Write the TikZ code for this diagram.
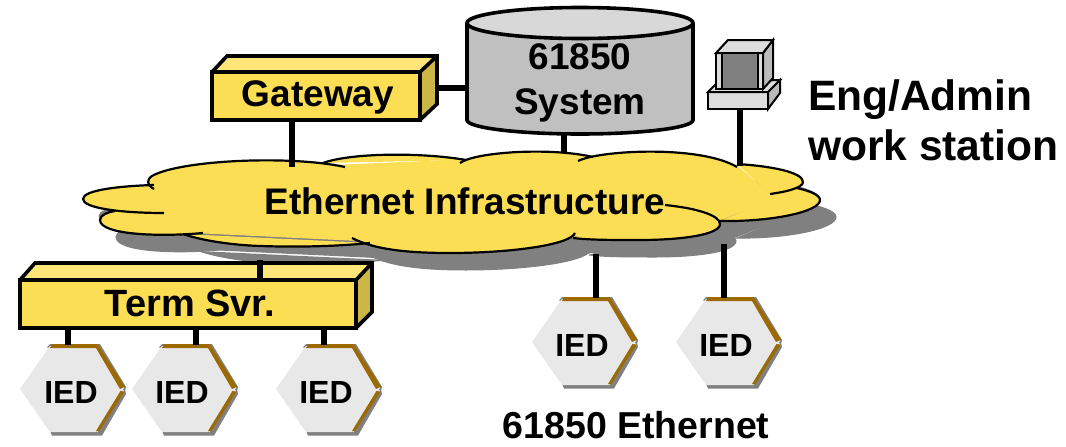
\documentclass[tikz,border=0pt]{standalone}
\usepackage{fontspec}
\setmainfont{Liberation Sans}
\definecolor{boxfront}{RGB}{252,222,85}
\definecolor{boxtop}{RGB}{253,229,120}
\definecolor{boxside}{RGB}{204,183,70}
\definecolor{shadowgray}{RGB}{128,128,128}
\definecolor{iedfill}{RGB}{232,232,232}
\definecolor{iedbrown}{RGB}{156,106,0}
\definecolor{cylbody}{RGB}{192,192,192}
\definecolor{cyltop}{RGB}{216,216,216}
\definecolor{lightgray2}{RGB}{221,221,221}
\definecolor{midgray2}{RGB}{187,187,187}
\tikzset{
 x=1pt,y=-1pt,
 lab/.style={font=\fontsize{37}{45}\selectfont\bfseries,align=left,inner sep=0pt},
 iedlab/.style={font=\fontsize{32}{36}\selectfont\bfseries,inner sep=0pt},
 boxline/.style={draw=black,line width=3.6pt,line join=miter},
 link/.style={draw=black,line width=5.5pt},
 cloudline/.style={draw=black,line width=2.2pt},
 wsline/.style={draw=black,line width=2pt},
 cloudfill/.style={fill=#1,draw=#1,line width=1pt},
}
\newcommand{\cloudlobes}[1]{%
 \path[#1] (154,189) .. controls (147,185) and (146,180) .. (152,176) .. controls (180,160) and (290,155) .. (345,167);
 \path[#1] (323,163) .. controls (350,153) and (420,152) .. (466,160);
 \path[#1] (460,163) .. controls (475,152) and (550,147) .. (593,157);
 \path[#1] (578,161) .. controls (600,150) and (700,145) .. (737,167);
 \path[#1] (737,164) .. controls (770,166) and (803,172) .. (803,182) .. controls (803,188) and (785,192) .. (770,194);
 \path[#1] (797,188) .. controls (810,191) and (820,195) .. (820,200) .. controls (820,212) and (770,222) .. (720,221);
 \path[#1] (665,205) .. controls (695,208) and (720,215) .. (720,224) .. controls (720,235) and (680,240) .. (640,240) .. controls (610,240) and (590,240) .. (573,238);
 \path[#1] (575,233) .. controls (570,245) and (510,253) .. (450,253) .. controls (410,253) and (375,250) .. (352,238);
 \path[#1] (370,243) .. controls (330,247) and (290,247) .. (260,246) .. controls (230,245) and (200,240) .. (183,234);
 \path[#1] (203,233) .. controls (160,237) and (100,235) .. (100,220) .. controls (100,215) and (108,212) .. (115,211);
 \path[#1] (164,213) .. controls (120,213) and (83,208) .. (83,199) .. controls (83,190) and (120,186) .. (154,185);
}
\newcommand{\cloudcore}[1]{%
 \path[#1] (154,187) -- (200,165) -- (345,165) -- (460,160) -- (590,158) -- (737,166) -- (770,194) -- (797,189) -- (720,220) -- (573,236) -- (450,249) -- (370,241) -- (183,232) -- (117,212) -- (164,212) -- cycle;
}
\newcommand{\ied}[2]{%
 \begin{scope}[shift={(#1,#2)}]
  \fill[shadowgray] (50,431) -- (98,431) -- (125,390) -- (126,394) -- (102,435.5) -- (52,435.5) -- cycle;
  \fill[shadowgray] (47,347.5) -- (50,344) -- (100,344) -- (126,387) -- (125,391) -- (120,389) -- (96,347.5) -- cycle;
  \fill[iedfill] (20,389) -- (50,346) -- (98,346) -- (124,388) -- (98,432) -- (50,432) -- cycle;
  \fill[iedbrown] (52,344) -- (97.5,344) -- (125,386.5) -- (120,389) -- (96,348) -- (50,348) -- cycle;
  \fill[iedbrown] (120.5,391) -- (124.5,391.5) -- (99,431.5) -- (96,431) -- cycle;
 \end{scope}}
\newcommand{\iedtext}[3]{\node[iedlab] (#1) at (#2,#3) {IED};}
\begin{document}
\begin{tikzpicture}
\useasboundingbox (0,0) rectangle (1066,447);
% cloud shadow
\begin{scope}[shift={(16,17)}]
 \cloudcore{cloudfill=shadowgray}
 \cloudlobes{cloudfill=shadowgray}
\end{scope}
% cloud
\cloudcore{cloudfill=boxfront}
\cloudlobes{cloudfill=boxfront}
\cloudlobes{cloudline}
\node[lab] (cloud) at (465,201) {Ethernet Infrastructure};
\coordinate (cgw) at (292,167);
\coordinate (csys) at (564,153);
\coordinate (cws) at (740,166);
\coordinate (cterm) at (260,260);
\coordinate (cied4) at (596,254);
\coordinate (cied5) at (724,244);
% gateway
\fill[boxtop] (212,72) -- (227,56) -- (437,56) -- (420,72) -- cycle;
\fill[boxside] (420,72) -- (437,56) -- (437,104) -- (420,120) -- cycle;
\draw[boxline,fill=boxfront] (212,72) rectangle (420,120);
\draw[boxline] (212,72) -- (227,56) -- (437,56) -- (437,104) -- (420,120) (437,56) -- (420,72);
\node[lab] (gateway) at (318,97) {Gateway};
\coordinate (gws) at (292,120);
\coordinate (gwe) at (437,88);
% term server
\fill[boxtop] (20,280) -- (35,263) -- (372,263) -- (356,280) -- cycle;
\fill[boxside] (356,280) -- (372,263) -- (372,312) -- (356,328) -- cycle;
\draw[boxline,fill=boxfront] (20,280) rectangle (356,328);
\draw[boxline] (20,280) -- (35,263) -- (372,263) -- (372,312) -- (356,328) (372,263) -- (356,280);
\node[lab,font=\fontsize{38}{45}\selectfont\bfseries] (term) at (190,303) {Term Svr.};
\coordinate (tst) at (260,280);
\coordinate (ts1) at (68,328);
\coordinate (ts2) at (196,328);
\coordinate (ts3) at (324,328);
% cylinder
\draw[boxline,fill=cylbody] (467,23) -- (467,120) .. controls (467,128) and (520,134) .. (580,134) .. controls (640,134) and (693,128) .. (693,120) -- (693,23);
\draw[boxline,fill=cyltop] (580,23) ellipse [x radius=113,y radius=15.5];
\node[lab,align=center] (sys) at (580,83) {61850\\System};
\coordinate (syss) at (564,134);
\coordinate (sysw) at (467,88);
% workstation
\draw[wsline,fill=lightgray2] (708,92) rectangle (768,109);
\draw[wsline,fill=midgray2] (768,92) -- (780,80) -- (780,93) -- (768,109) -- cycle;
\draw[wsline,fill=lightgray2] (708,92) -- (718,82) -- (780,80) -- (768,92) -- cycle;
\draw[wsline,fill=lightgray2] (716,53) rectangle (763,89);
\draw[wsline,fill=midgray2] (763,53) -- (773,40) -- (773,78) -- (763,89) -- cycle;
\draw[wsline,fill=lightgray2] (716,53) -- (728,40) -- (773,40) -- (763,53) -- cycle;
\draw[wsline,fill=shadowgray] (722,53) rectangle (758,89);
\coordinate (wss) at (740,109);
\node[lab,font=\fontsize{42.5}{50}\selectfont\bfseries,anchor=west] (wslab) at (808,120) {Eng/Admin\\work station};
% IEDs
\ied{0}{0}
\ied{112}{0}
\ied{256}{0}
\ied{512}{-47}
\ied{656}{-47}
\iedtext{i1}{71}{392}
\iedtext{i2}{182}{392}
\iedtext{i3}{326}{392}
\iedtext{i4}{582}{345}
\iedtext{i5}{726}{345}
\coordinate (i1t) at (68,345);
\coordinate (i2t) at (196,345);
\coordinate (i3t) at (324,345);
\coordinate (i4t) at (596,298);
\coordinate (i5t) at (724,298);
\node[lab,font=\fontsize{37.5}{45}\selectfont\bfseries] (eth) at (636,425) {61850 Ethernet};
% links
\draw[link] (gws) -- (cgw);
\draw[link] (gwe) -- (sysw);
\draw[link] (syss) -- (csys);
\draw[link] (wss) -- (cws);
\draw[link] (cterm) -- (tst);
\draw[link] (ts1) -- (i1t);
\draw[link] (ts2) -- (i2t);
\draw[link] (ts3) -- (i3t);
\draw[link] (cied4) -- (i4t);
\draw[link] (cied5) -- (i5t);
\end{tikzpicture}
\end{document}
